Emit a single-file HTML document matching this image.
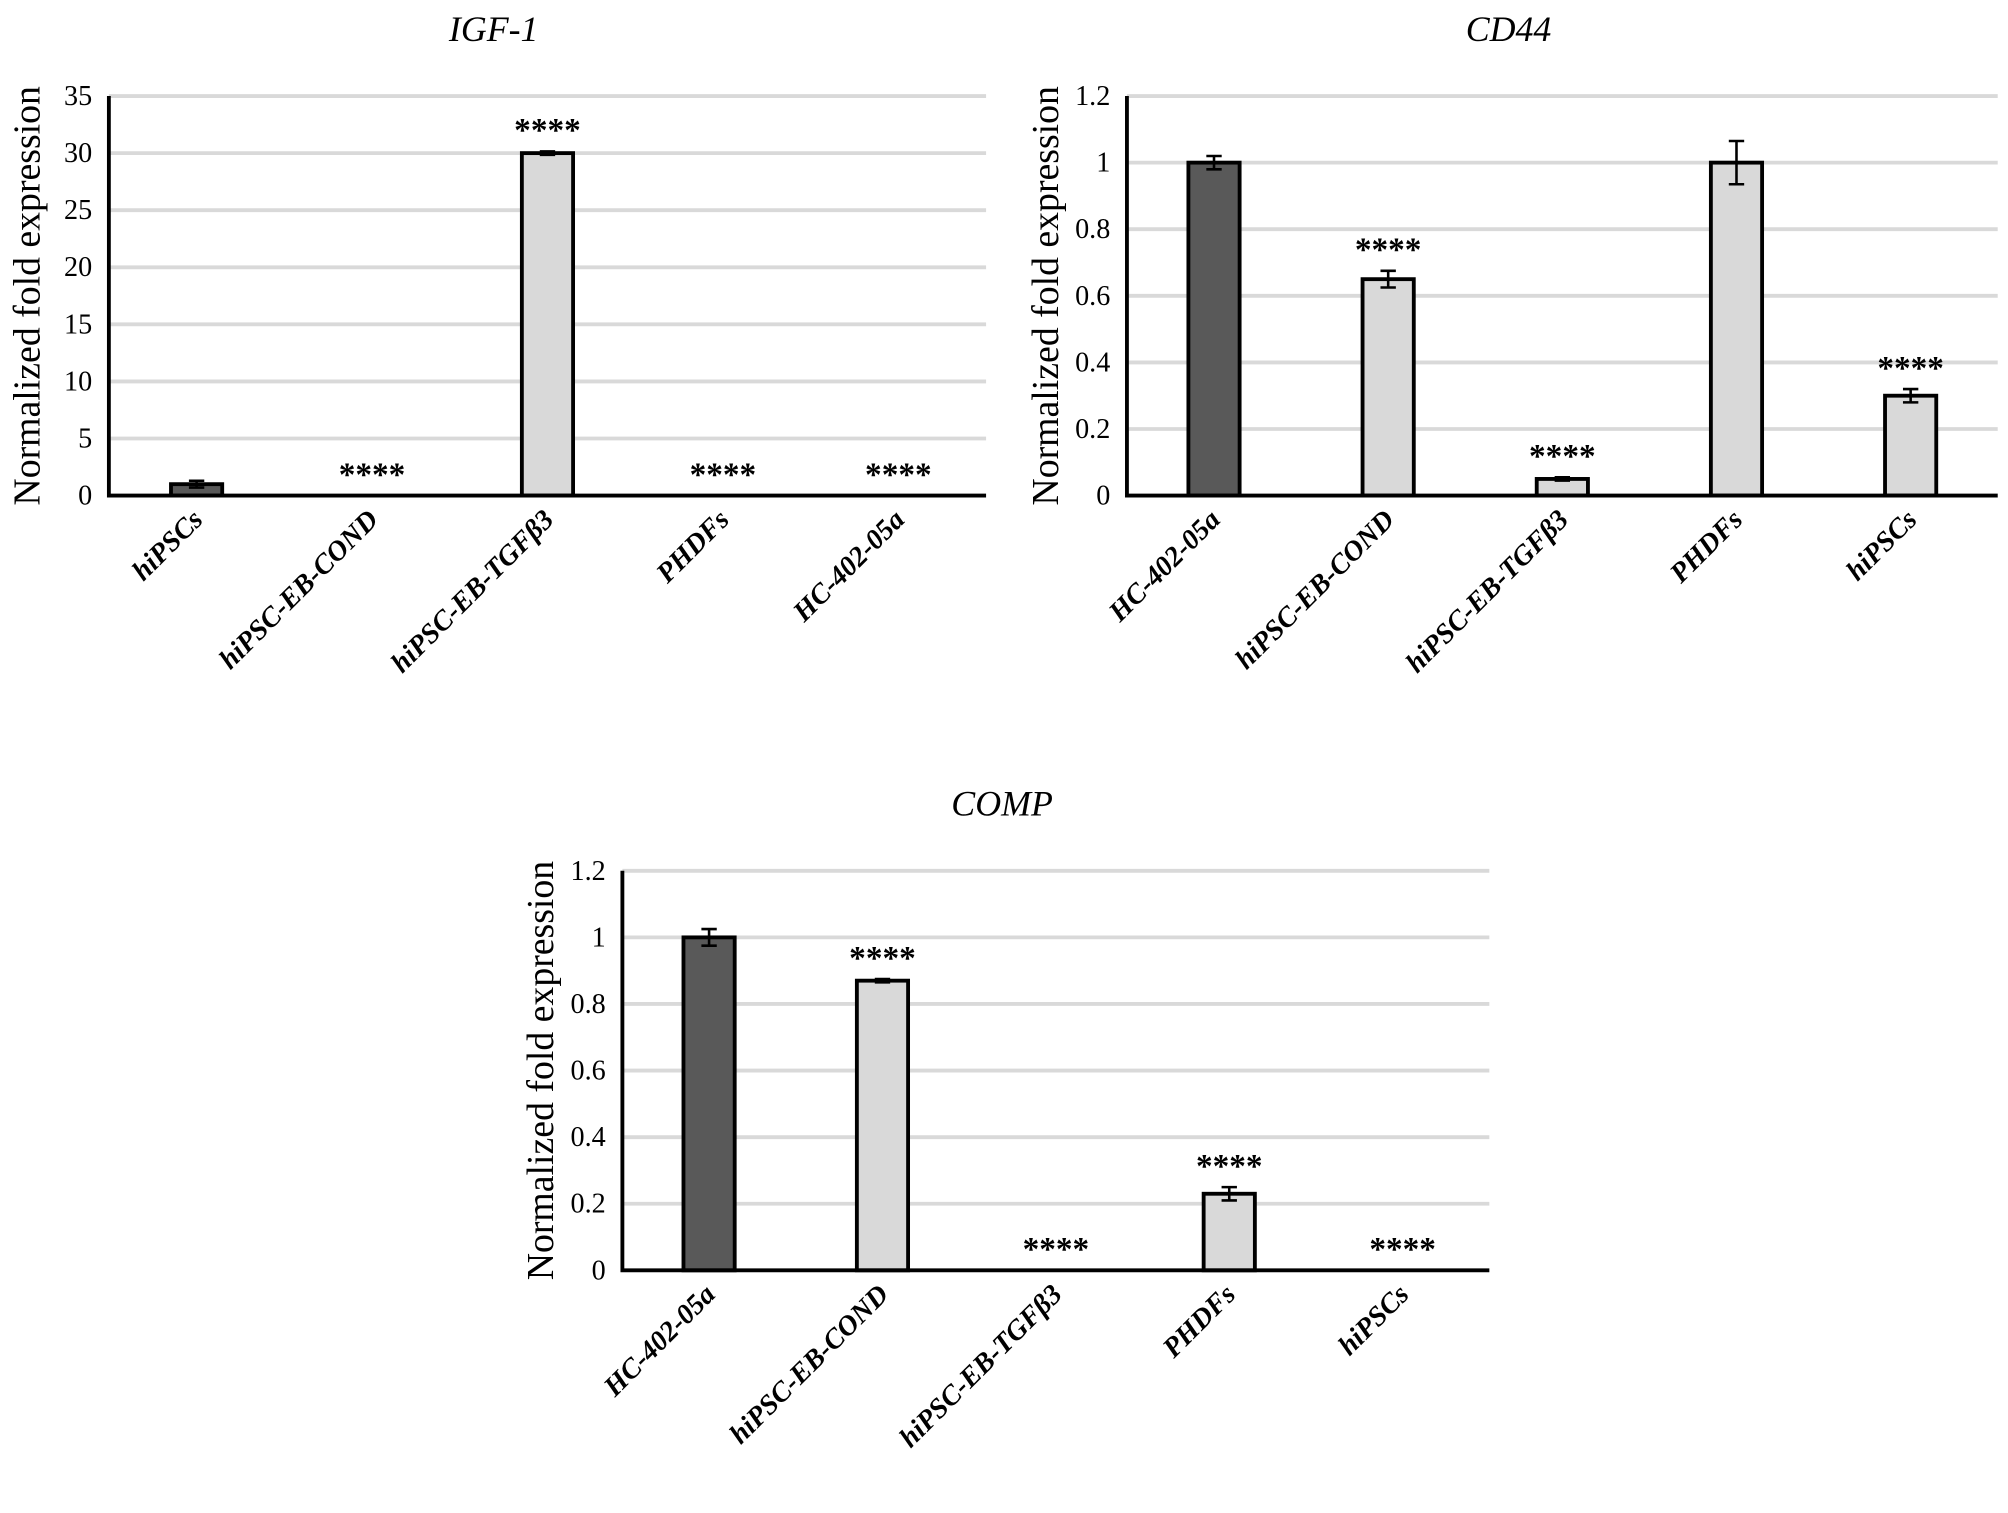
<!DOCTYPE html>
<html><head><meta charset="utf-8"><style>
html,body{margin:0;padding:0;background:#fff;}
svg{display:block;font-family:"Liberation Serif",serif;}
</style></head><body>
<svg id="chart" width="2008" height="1513" viewBox="0 0 1568 1181.5" xmlns="http://www.w3.org/2000/svg"></svg>
<script>
const igfCategories = ["hiPSCs","hiPSC-EB-COND","hiPSC-EB-TGFβ3","PHDFs","HC-402-05a"];
const igfValues = [1.0, 0, 30, 0, 0];
const igfErrors = [0.3, 0, 0.15, 0, 0];
const igfStars = [false, true, true, true, true];
const igfDark = [true, false, false, false, false];
const igfTicks = [0,5,10,15,20,25,30,35];

const cd44Categories = ["HC-402-05a","hiPSC-EB-COND","hiPSC-EB-TGFβ3","PHDFs","hiPSCs"];
const cd44Values = [1.0, 0.65, 0.05, 1.0, 0.30];
const cd44Errors = [0.02, 0.025, 0.005, 0.065, 0.02];
const cd44Stars = [false, true, true, false, true];
const cd44Dark = [true, false, false, false, false];
const cd44Ticks = [0,0.2,0.4,0.6,0.8,1,1.2];

const compCategories = ["HC-402-05a","hiPSC-EB-COND","hiPSC-EB-TGFβ3","PHDFs","hiPSCs"];
const compValues = [1.0, 0.87, 0, 0.23, 0];
const compErrors = [0.025, 0.005, 0, 0.02, 0];
const compStars = [false, true, true, true, true];
const compDark = [true, false, false, false, false];
const compTicks = [0,0.2,0.4,0.6,0.8,1,1.2];

const NS = "http://www.w3.org/2000/svg";
const svg = document.getElementById("chart");
function mk(tag, attrs, parent, text){
  const e = document.createElementNS(NS, tag);
  for (const k in attrs) e.setAttribute(k, attrs[k]);
  if (text !== undefined) e.textContent = text;
  (parent||svg).appendChild(e);
  return e;
}

function panel(name, title, cats, vals, errs, stars, dark, ticks, box){
  const g = mk("g", {});
  
  
  const maxV = ticks[ticks.length-1];
  const y = v => box.bottom - (v/maxV)*(box.bottom-box.top);
  const bw = (box.right-box.left)/cats.length;
  const x = i => box.left + bw*(i+0.5);
  const t = mk("text", {x:(box.left+box.right)/2 - 42, y:box.titleY, "text-anchor":"middle", "font-size":28, "font-style":"italic"}, g, title);
  
  
  ticks.forEach(tv => {
    if (tv > 0) {
      const gl = mk("line", {x1:box.left, x2:box.right, y1:y(tv), y2:y(tv), stroke:"#d9d9d9", "stroke-width":3}, g);
      
      
    }
    const tl = mk("text", {x:box.left-13, y:y(tv)+7, "text-anchor":"end", "font-size":22}, g, String(tv));
    
    
  });
  const yt = mk("text", {x:0, y:0, transform:`translate(${box.left-54},${(box.top+box.bottom)/2}) rotate(-90)`, "text-anchor":"middle", "font-size":29.5}, g, "Normalized fold expression");
  
  
  const bwid = 40;
  cats.forEach((c, i) => {
    const cx = x(i);
    if (vals[i] > 0) {
      const r = mk("rect", {x:cx-bwid/2, y:y(vals[i]), width:bwid, height:box.bottom-y(vals[i]), fill: dark[i] ? "#595959" : "#d9d9d9", stroke:"#000", "stroke-width":3}, g);
      
      
      if (errs[i] > 0) {
        const e1 = y(vals[i]+errs[i]), e2 = y(vals[i]-errs[i]);
        const eb = mk("path", {d:`M${cx},${e1}V${e2}M${cx-6},${e1}H${cx+6}M${cx-6},${e2}H${cx+6}`, stroke:"#000", "stroke-width":2, fill:"none"}, g);
        
        
      }
    }
    if (stars[i]) {
      const top = vals[i] > 0 ? y(vals[i]+errs[i]) - 16 : box.bottom - 16;
      const s = mk("text", {x:cx, y:top+8, "text-anchor":"middle", "font-size":26, "font-weight":"bold"}, g, "****");
      
      
    }
    const xl = mk("text", {x:0, y:0, transform:`translate(${cx+6},${box.bottom+20}) rotate(-45)`, "text-anchor":"end", "font-size":22, "font-style":"italic", "font-weight":"bold"}, g, c);
    
    
  });
  const ax = mk("path", {d:`M${box.left},${box.top}V${box.bottom}H${box.right}`, stroke:"#000", "stroke-width":3, fill:"none"}, g);
  
  
}

panel("igf1", "IGF-1", igfCategories, igfValues, igfErrors, igfStars, igfDark, igfTicks, {left:85, right:770, top:75, bottom:387, titleY:32});
panel("cd44", "CD44", cd44Categories, cd44Values, cd44Errors, cd44Stars, cd44Dark, cd44Ticks, {left:880, right:1560, top:75, bottom:387, titleY:32});
panel("comp", "COMP", compCategories, compValues, compErrors, compStars, compDark, compTicks, {left:486, right:1163, top:680, bottom:992, titleY:637});
</script>
</body></html>
